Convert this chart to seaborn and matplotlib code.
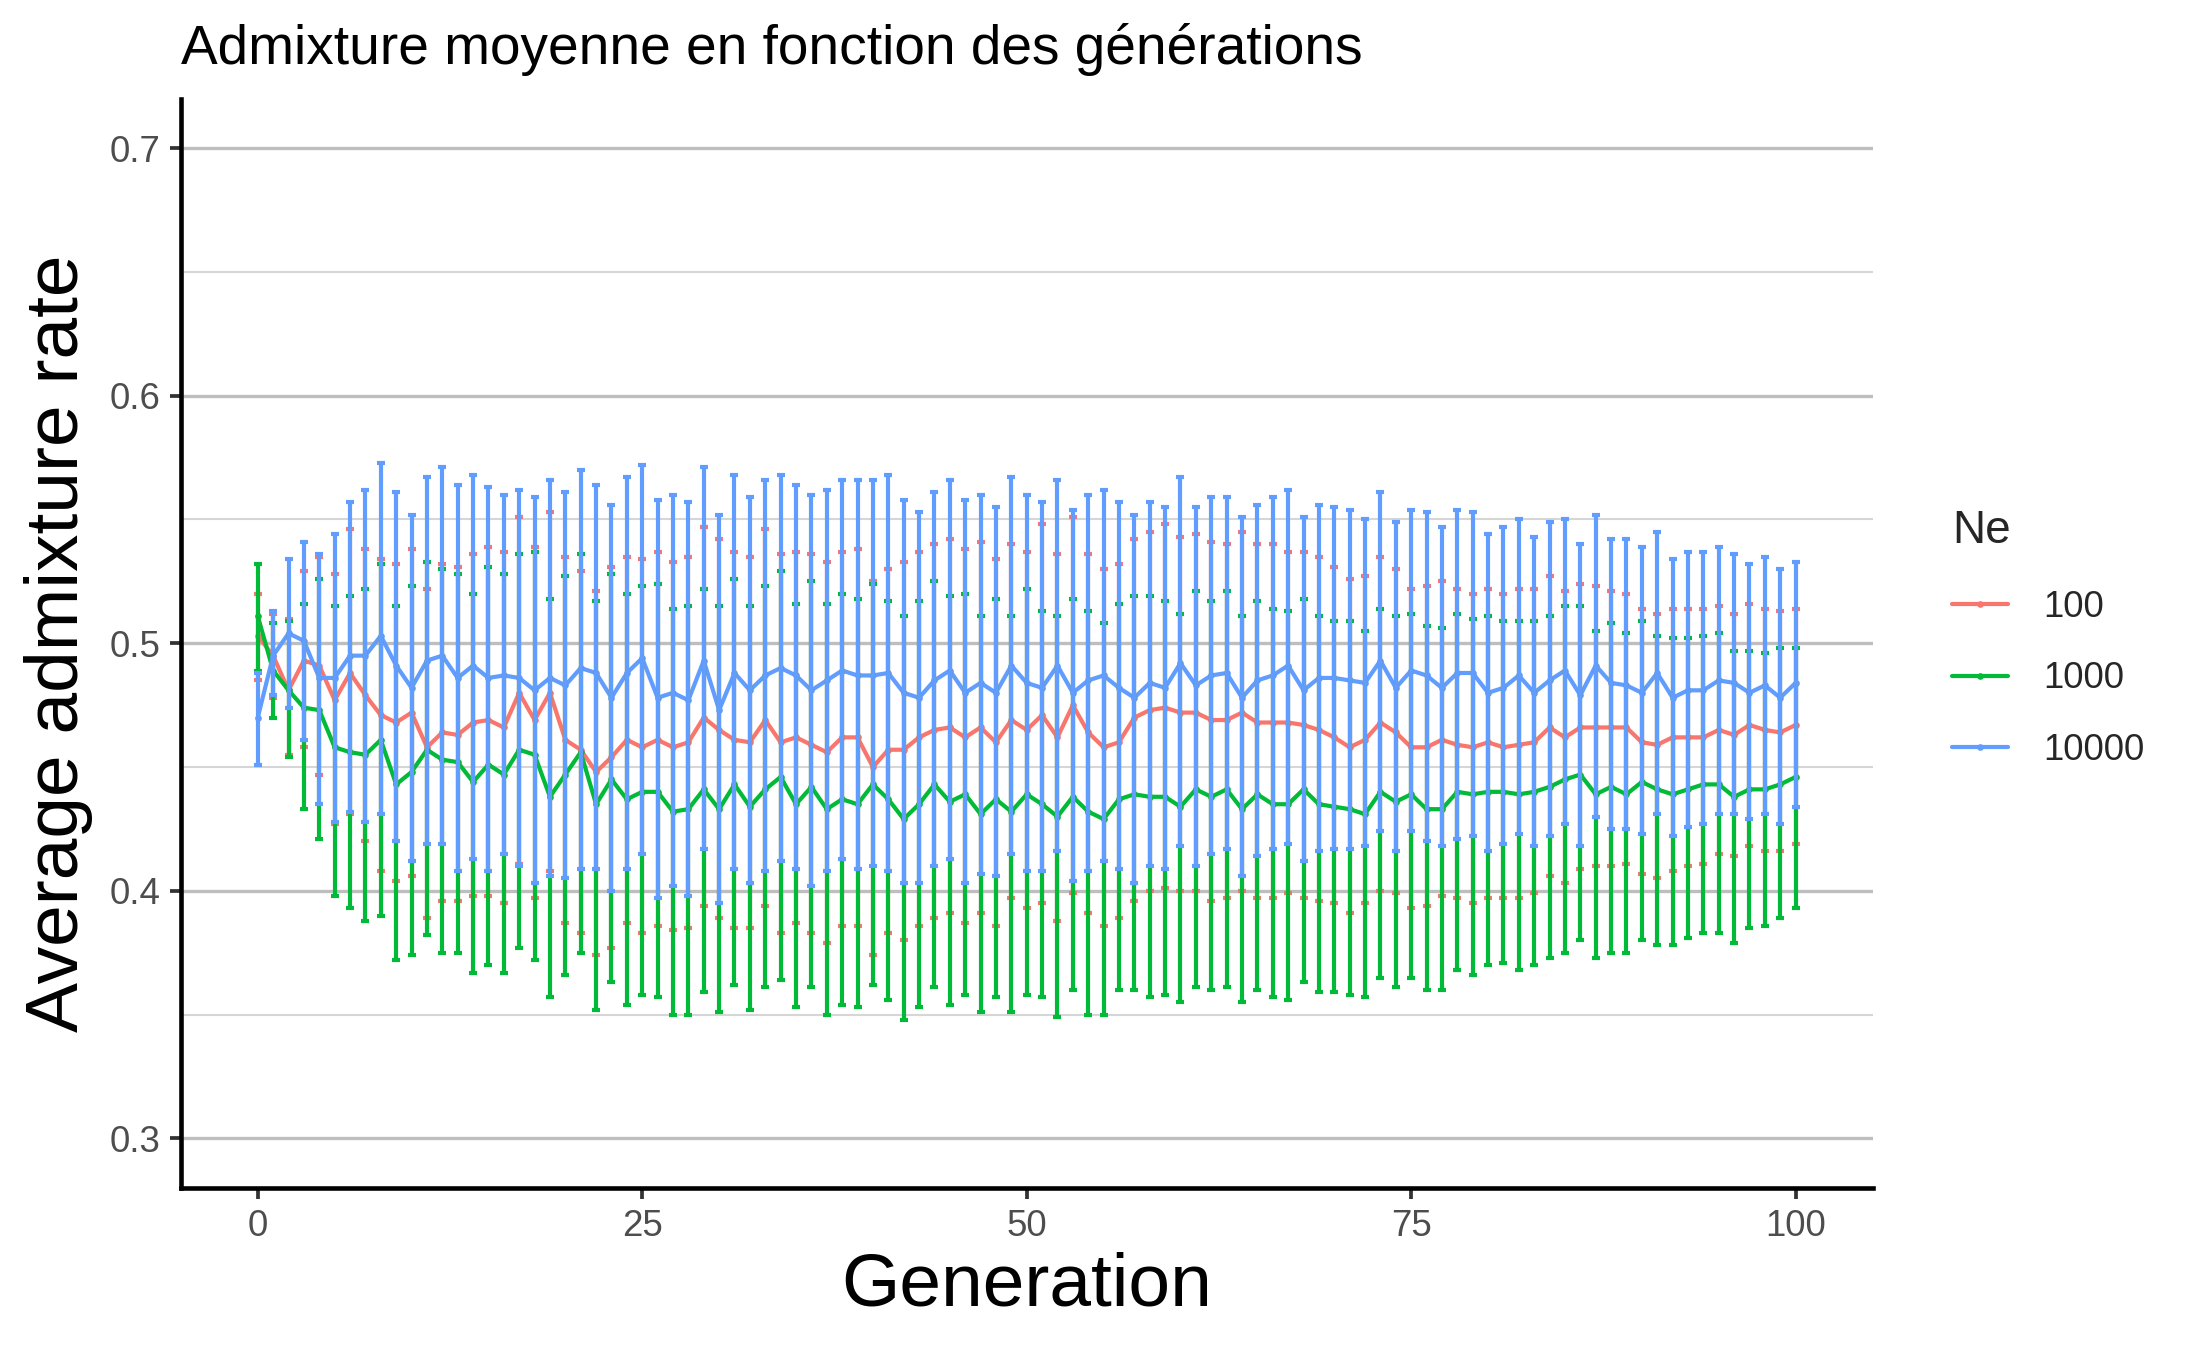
import matplotlib
matplotlib.use("Agg")
import matplotlib.pyplot as plt
import pandas as pd
import seaborn as sns

# donnees (moyenne, borne haute, borne basse par Ne)
generation = list(range(0, 101))
ne_levels = ["100", "1000", "10000"]
colors = ["#F8766D", "#00BA38", "#619CFF"]

mean_100 = [0.503, 0.495, 0.481, 0.493, 0.491, 0.477, 0.488, 0.479, 0.471, 0.468,
            0.472, 0.458, 0.464, 0.463, 0.468, 0.469, 0.466, 0.480, 0.469, 0.480,
            0.461, 0.457, 0.448, 0.454, 0.461, 0.458, 0.461, 0.458, 0.460, 0.470,
            0.465, 0.461, 0.460, 0.469, 0.460, 0.462, 0.459, 0.456, 0.462, 0.462,
            0.450, 0.457, 0.457, 0.462, 0.465, 0.466, 0.462, 0.466, 0.460, 0.469,
            0.465, 0.471, 0.462, 0.475, 0.464, 0.458, 0.460, 0.470, 0.473, 0.474,
            0.472, 0.472, 0.469, 0.469, 0.472, 0.468, 0.468, 0.468, 0.467, 0.465,
            0.462, 0.458, 0.461, 0.468, 0.464, 0.458, 0.458, 0.461, 0.459, 0.458,
            0.460, 0.458, 0.459, 0.460, 0.466, 0.462, 0.466, 0.466, 0.466, 0.466,
            0.460, 0.459, 0.462, 0.462, 0.462, 0.465, 0.463, 0.467, 0.465, 0.464,
            0.467]
hi_100 = [0.520, 0.512, 0.510, 0.529, 0.535, 0.528, 0.546, 0.538, 0.534, 0.532,
          0.538, 0.522, 0.532, 0.531, 0.536, 0.539, 0.537, 0.551, 0.539, 0.553,
          0.535, 0.529, 0.521, 0.531, 0.535, 0.534, 0.537, 0.533, 0.535, 0.547,
          0.542, 0.537, 0.535, 0.546, 0.536, 0.537, 0.536, 0.533, 0.537, 0.538,
          0.525, 0.530, 0.533, 0.537, 0.540, 0.542, 0.538, 0.541, 0.534, 0.540,
          0.537, 0.548, 0.536, 0.551, 0.536, 0.530, 0.532, 0.542, 0.545, 0.548,
          0.543, 0.544, 0.541, 0.540, 0.545, 0.540, 0.540, 0.537, 0.537, 0.535,
          0.531, 0.526, 0.527, 0.535, 0.530, 0.522, 0.523, 0.525, 0.522, 0.520,
          0.522, 0.520, 0.522, 0.522, 0.527, 0.521, 0.524, 0.523, 0.521, 0.520,
          0.514, 0.512, 0.514, 0.514, 0.514, 0.515, 0.512, 0.516, 0.514, 0.513,
          0.514]
lo_100 = [0.485, 0.478, 0.455, 0.458, 0.447, 0.427, 0.431, 0.420, 0.408, 0.404,
          0.406, 0.389, 0.396, 0.396, 0.398, 0.398, 0.395, 0.411, 0.397, 0.408,
          0.387, 0.383, 0.374, 0.377, 0.387, 0.383, 0.386, 0.384, 0.385, 0.394,
          0.389, 0.385, 0.385, 0.394, 0.383, 0.387, 0.383, 0.379, 0.386, 0.386,
          0.374, 0.383, 0.380, 0.386, 0.389, 0.391, 0.387, 0.391, 0.386, 0.397,
          0.393, 0.395, 0.388, 0.399, 0.391, 0.386, 0.389, 0.396, 0.400, 0.401,
          0.400, 0.400, 0.396, 0.397, 0.400, 0.397, 0.397, 0.399, 0.397, 0.396,
          0.395, 0.391, 0.395, 0.400, 0.399, 0.393, 0.394, 0.398, 0.397, 0.395,
          0.397, 0.397, 0.397, 0.399, 0.406, 0.403, 0.409, 0.410, 0.410, 0.411,
          0.407, 0.405, 0.408, 0.410, 0.411, 0.415, 0.414, 0.418, 0.416, 0.416,
          0.419]

mean_1000 = [0.511, 0.489, 0.481, 0.474, 0.473, 0.458, 0.456, 0.455, 0.461, 0.443,
             0.448, 0.457, 0.453, 0.452, 0.444, 0.451, 0.447, 0.457, 0.455, 0.438,
             0.447, 0.456, 0.435, 0.445, 0.437, 0.440, 0.440, 0.432, 0.433, 0.441,
             0.433, 0.443, 0.434, 0.441, 0.446, 0.435, 0.442, 0.433, 0.437, 0.435,
             0.443, 0.437, 0.429, 0.435, 0.443, 0.436, 0.439, 0.431, 0.437, 0.432,
             0.439, 0.435, 0.430, 0.438, 0.432, 0.429, 0.437, 0.439, 0.438, 0.438,
             0.434, 0.441, 0.438, 0.441, 0.433, 0.439, 0.435, 0.435, 0.441, 0.435,
             0.434, 0.433, 0.431, 0.440, 0.436, 0.439, 0.433, 0.433, 0.440, 0.439,
             0.440, 0.440, 0.439, 0.440, 0.442, 0.445, 0.447, 0.439, 0.442, 0.439,
             0.444, 0.441, 0.439, 0.441, 0.443, 0.443, 0.438, 0.441, 0.441, 0.443,
             0.446]
hi_1000 = [0.532, 0.508, 0.509, 0.516, 0.526, 0.515, 0.519, 0.522, 0.532, 0.515,
           0.523, 0.533, 0.530, 0.528, 0.520, 0.531, 0.528, 0.536, 0.537, 0.518,
           0.527, 0.536, 0.517, 0.528, 0.520, 0.523, 0.524, 0.514, 0.515, 0.522,
           0.515, 0.526, 0.515, 0.523, 0.529, 0.516, 0.525, 0.516, 0.520, 0.518,
           0.524, 0.517, 0.511, 0.517, 0.525, 0.519, 0.520, 0.511, 0.518, 0.511,
           0.522, 0.513, 0.511, 0.518, 0.513, 0.508, 0.516, 0.519, 0.519, 0.517,
           0.512, 0.521, 0.517, 0.521, 0.511, 0.517, 0.514, 0.513, 0.518, 0.511,
           0.509, 0.509, 0.505, 0.514, 0.511, 0.512, 0.507, 0.506, 0.512, 0.510,
           0.511, 0.509, 0.509, 0.509, 0.511, 0.515, 0.515, 0.505, 0.508, 0.504,
           0.509, 0.503, 0.502, 0.502, 0.503, 0.504, 0.497, 0.497, 0.496, 0.498,
           0.498]
lo_1000 = [0.489, 0.470, 0.454, 0.433, 0.421, 0.398, 0.393, 0.388, 0.390, 0.372,
           0.374, 0.382, 0.375, 0.375, 0.367, 0.370, 0.367, 0.377, 0.372, 0.357,
           0.366, 0.375, 0.352, 0.363, 0.354, 0.358, 0.357, 0.350, 0.350, 0.359,
           0.351, 0.362, 0.352, 0.361, 0.364, 0.353, 0.361, 0.350, 0.354, 0.353,
           0.362, 0.356, 0.348, 0.353, 0.361, 0.354, 0.358, 0.351, 0.357, 0.351,
           0.358, 0.357, 0.349, 0.360, 0.350, 0.350, 0.360, 0.360, 0.357, 0.358,
           0.355, 0.361, 0.360, 0.361, 0.355, 0.360, 0.357, 0.356, 0.363, 0.359,
           0.359, 0.358, 0.357, 0.365, 0.361, 0.365, 0.360, 0.360, 0.368, 0.366,
           0.370, 0.371, 0.368, 0.370, 0.373, 0.375, 0.380, 0.373, 0.375, 0.375,
           0.380, 0.378, 0.378, 0.381, 0.383, 0.383, 0.379, 0.385, 0.386, 0.389,
           0.393]

mean_10000 = [0.470, 0.495, 0.504, 0.501, 0.486, 0.486, 0.495, 0.495, 0.503, 0.491,
              0.482, 0.493, 0.495, 0.486, 0.491, 0.486, 0.487, 0.486, 0.481, 0.486,
              0.483, 0.490, 0.488, 0.478, 0.488, 0.494, 0.478, 0.480, 0.477, 0.493,
              0.473, 0.488, 0.481, 0.487, 0.490, 0.487, 0.481, 0.485, 0.489, 0.487,
              0.487, 0.488, 0.480, 0.478, 0.485, 0.489, 0.480, 0.484, 0.480, 0.491,
              0.484, 0.482, 0.491, 0.480, 0.485, 0.487, 0.482, 0.478, 0.484, 0.482,
              0.492, 0.483, 0.487, 0.488, 0.478, 0.485, 0.487, 0.491, 0.481, 0.486,
              0.486, 0.485, 0.484, 0.493, 0.482, 0.489, 0.487, 0.482, 0.488, 0.488,
              0.480, 0.482, 0.487, 0.480, 0.485, 0.489, 0.479, 0.491, 0.484, 0.483,
              0.480, 0.488, 0.478, 0.481, 0.481, 0.485, 0.484, 0.480, 0.483, 0.478,
              0.484]
hi_10000 = [0.488, 0.513, 0.534, 0.541, 0.536, 0.544, 0.557, 0.562, 0.573, 0.561,
            0.552, 0.567, 0.571, 0.564, 0.568, 0.563, 0.560, 0.562, 0.559, 0.566,
            0.561, 0.570, 0.564, 0.556, 0.567, 0.572, 0.558, 0.560, 0.557, 0.571,
            0.552, 0.568, 0.559, 0.566, 0.568, 0.564, 0.560, 0.562, 0.566, 0.566,
            0.566, 0.568, 0.558, 0.553, 0.561, 0.566, 0.558, 0.560, 0.555, 0.567,
            0.560, 0.557, 0.566, 0.554, 0.560, 0.562, 0.557, 0.552, 0.557, 0.555,
            0.567, 0.555, 0.559, 0.559, 0.551, 0.556, 0.559, 0.562, 0.551, 0.556,
            0.555, 0.554, 0.550, 0.561, 0.549, 0.554, 0.553, 0.547, 0.554, 0.553,
            0.544, 0.547, 0.550, 0.543, 0.549, 0.550, 0.540, 0.552, 0.542, 0.542,
            0.539, 0.545, 0.534, 0.537, 0.537, 0.539, 0.536, 0.532, 0.535, 0.530,
            0.533]
lo_10000 = [0.451, 0.479, 0.474, 0.461, 0.435, 0.428, 0.432, 0.428, 0.431, 0.420,
            0.412, 0.419, 0.419, 0.408, 0.413, 0.408, 0.415, 0.410, 0.403, 0.406,
            0.405, 0.409, 0.409, 0.400, 0.409, 0.415, 0.397, 0.402, 0.398, 0.417,
            0.395, 0.409, 0.403, 0.408, 0.412, 0.409, 0.402, 0.408, 0.413, 0.409,
            0.410, 0.408, 0.403, 0.403, 0.410, 0.413, 0.403, 0.407, 0.406, 0.415,
            0.408, 0.408, 0.416, 0.404, 0.408, 0.412, 0.409, 0.403, 0.410, 0.409,
            0.418, 0.410, 0.415, 0.417, 0.406, 0.414, 0.417, 0.419, 0.412, 0.416,
            0.417, 0.417, 0.418, 0.424, 0.416, 0.424, 0.420, 0.418, 0.421, 0.422,
            0.416, 0.419, 0.423, 0.418, 0.422, 0.427, 0.418, 0.430, 0.425, 0.425,
            0.423, 0.431, 0.422, 0.426, 0.427, 0.431, 0.431, 0.429, 0.431, 0.427,
            0.434]

means = [mean_100, mean_1000, mean_10000]
highs = [hi_100, hi_1000, hi_10000]
lows = [lo_100, lo_1000, lo_10000]

# tableau long pour seaborn
rows = []
for ne, m, h, l in zip(ne_levels, means, highs, lows):
    for g, mv, hv, lv in zip(generation, m, h, l):
        rows.append({"Generation": g, "Ne": ne, "mean": mv, "hi": hv, "lo": lv})
df = pd.DataFrame(rows)

sns.set_style("white")
plt.rcParams["font.family"] = ["Liberation Sans", "DejaVu Sans"]

fig = plt.figure(figsize=(7.29, 4.5), dpi=300)
ax = fig.add_axes([0.0827, 0.12, 0.7735, 0.807])

sns.lineplot(data=df, x="Generation", y="mean", hue="Ne", hue_order=ne_levels,
             palette=colors, marker="o", markersize=1.6, markeredgewidth=0,
             linewidth=1.0, ax=ax, zorder=3)

for ne, col in zip(ne_levels, colors):
    sub = df[df["Ne"] == ne]
    ax.errorbar(sub["Generation"], sub["mean"],
                yerr=[sub["mean"] - sub["lo"], sub["hi"] - sub["mean"]],
                fmt="none", ecolor=col, elinewidth=1.0, capsize=1.0,
                capthick=1.0, zorder=4)

ax.set_xlim(-5, 105)
ax.set_ylim(0.28, 0.72)
ax.set_xticks([0, 25, 50, 75, 100])
ax.set_yticks([0.3, 0.4, 0.5, 0.6, 0.7])
ax.set_yticks([0.35, 0.45, 0.55, 0.65], minor=True)
ax.set_yticklabels(["0.3", "0.4", "0.5", "0.6", "0.7"])

ax.yaxis.grid(True, which="major", color="#BEBEBE", linewidth=0.8)
ax.yaxis.grid(True, which="minor", color="#D6D6D6", linewidth=0.5)
ax.xaxis.grid(False)
ax.set_axisbelow(True)

for side in ["top", "right"]:
    ax.spines[side].set_visible(False)
for side in ["left", "bottom"]:
    ax.spines[side].set_color("black")
    ax.spines[side].set_linewidth(1.1)

ax.tick_params(which="major", length=2.75, width=0.9, color="#333333",
               labelsize=8.8, labelcolor="#4D4D4D", pad=2.2,
               left=True, bottom=True)
ax.tick_params(which="minor", length=0)

ax.set_xlabel("Generation", fontsize=18, color="black", labelpad=2)
ax.set_ylabel("Average admixture rate", fontsize=18, color="black", labelpad=4)
ax.set_title("Admixture moyenne en fonction des générations", loc="left",
             fontsize=13.2, color="black", pad=8.4)

handles, labels = ax.get_legend_handles_labels()
ax.legend(handles, labels, title="Ne", loc="center left",
          bbox_to_anchor=(0.8925, 0.527), bbox_transform=fig.transFigure,
          frameon=False, fontsize=8.8, title_fontsize=11, handlelength=1.53,
          handletextpad=0.95, labelspacing=1.0, borderpad=0,
          borderaxespad=0, alignment="left")

fig.savefig("out.png", dpi=300)
